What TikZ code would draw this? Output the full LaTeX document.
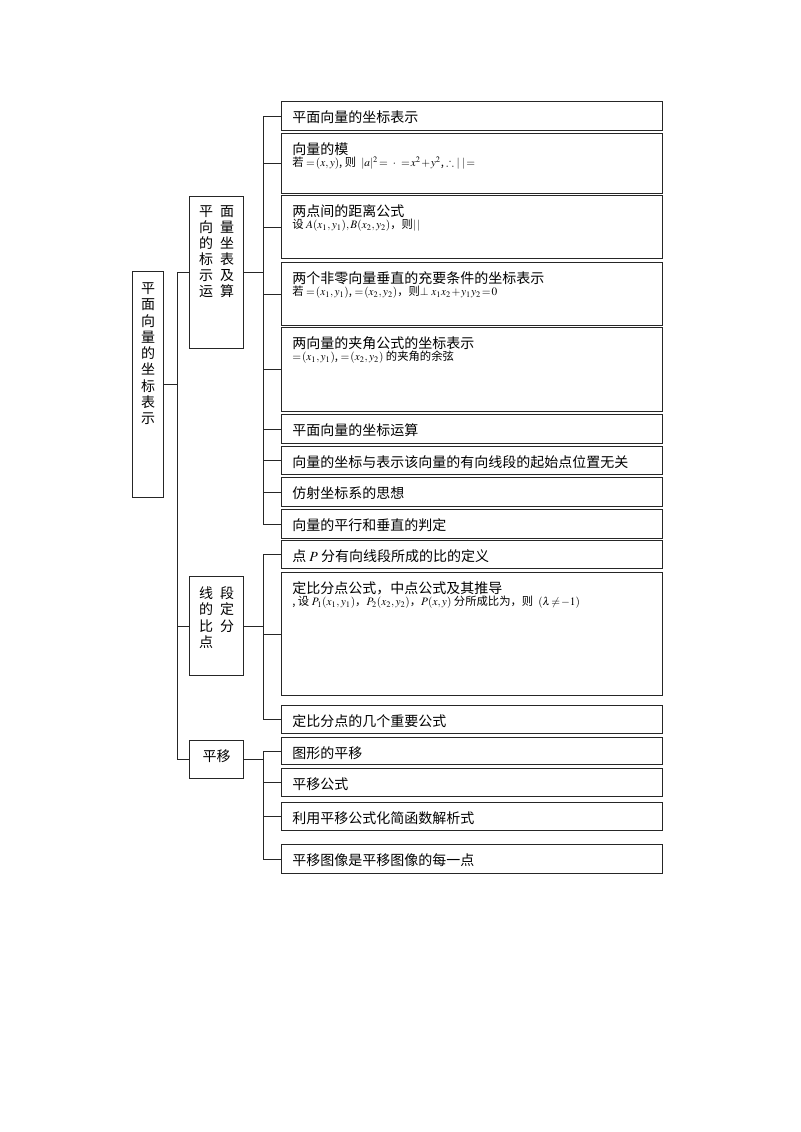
\documentclass[tikz,border=0pt]{standalone}
\usepackage{mathptmx}
\usepackage{amssymb}
\usepackage{fontspec}
\newfontfamily\cjk{Noto Sans CJK SC}
\usetikzlibrary{positioning}
\tikzset{
    topic/.style={
        draw=black!85,
        line width=0.9pt,
        anchor=north west,
        inner sep=0pt,
        font=\cjk\fontsize{10.5pt}{12pt}\selectfont,
    },
    item/.style={
        topic,
        inner xsep=8pt,
    },
    link/.style={
        draw=black!85,
        line width=0.8pt,
    },
}
\newcommand\itemtext[2]{\parbox[c][#1][t]{269.75pt}{\rule{0pt}{15.3pt}#2}}
\newcommand\fml{\par\fontsize{8.5pt}{9.5pt}\selectfont\medmuskip=1mu\thickmuskip=1.5mu}
\newcommand\gp{\hspace{5.25pt}}

\begin{document}
\begin{tikzpicture}[x=0.75pt,y=-0.75pt]
    \useasboundingbox (0,0) rectangle (800,1132);
    % left column
    \node [topic] (root) at (132,271) {\parbox[c][169.5pt][t]{23.25pt}{\centering\fontsize{10.5pt}{12.2pt}\selectfont\rule{0pt}{16.4pt}平\\面\\向\\量\\的\\坐\\标\\表\\示}};
    \node [topic] (g1) at (189,196) {\parbox[c][114pt][t]{40.5pt}{\centering\rule{0pt}{15pt}平\gp{}面\\向\gp{}量\\的\gp{}坐\\标\gp{}表\\示\gp{}及\\运\gp{}算}};
    \node [topic] (g2) at (189,576) {\parbox[c][74.25pt][t]{40.5pt}{\centering\fontsize{10.5pt}{12.2pt}\selectfont\rule{0pt}{16.4pt}线\gp{}段\\的\gp{}定\\比\gp{}分\\点\gp{}\phantom{分}}};
    \node [topic] (g3) at (189,740) {\parbox[c][28.5pt][t]{40.5pt}{\centering\rule{0pt}{15.6pt}平移}};
    % right column
    \node [item] (l1) at (281,101) {\itemtext{21.75pt}{平面向量的坐标表示}};
    \node [item] (l2) at (281,133) {\itemtext{45pt}{向量的模\fml{}若 $=(x,y)$, 则\ \ $|a|^2=$\ \ $\cdot$\ \ $=x^2+y^2$, $\therefore$ $|\ |=$}};
    \node [item] (l3) at (281,195) {\itemtext{47.25pt}{两点间的距离公式\fml{}设 $A(x_1,y_1),B(x_2,y_2)$，则$|\;|$}};
    \node [item] (l4) at (281,262) {\itemtext{47.25pt}{两个非零向量垂直的充要条件的坐标表示\fml{}若 $=(x_1,y_1)$, $=(x_2,y_2)$，则$\perp$ $x_1x_2+y_1y_2=0$}};
    \node [item] (l5) at (281,327) {\itemtext{63pt}{两向量的夹角公式的坐标表示\fml{}$=(x_1,y_1)$, $=(x_2,y_2)$ 的夹角的余弦}};
    \node [item] (l6) at (281,414) {\itemtext{21.75pt}{平面向量的坐标运算}};
    \node [item] (l7) at (281,446) {\itemtext{21pt}{向量的坐标与表示该向量的有向线段的起始点位置无关}};
    \node [item] (l8) at (281,477) {\itemtext{21.75pt}{仿射坐标系的思想}};
    \node [item] (l9) at (281,509) {\itemtext{21.75pt}{向量的平行和垂直的判定}};
    \node [item] (l10) at (281,540) {\itemtext{21pt}{点 $P$ 分有向线段所成的比的定义}};
    \node [item] (l11) at (281,572) {\itemtext{92.25pt}{定比分点公式，中点公式及其推导\fml{}, 设 $P_1(x_1,y_1)$，$P_2(x_2,y_2)$，$P(x,y)$ 分所成比为，则\ \ $(\lambda\neq-1)$}};
    \node [item] (l12) at (281,705) {\itemtext{21pt}{定比分点的几个重要公式}};
    \node [item] (l13) at (281,737) {\itemtext{20.25pt}{图形的平移}};
    \node [item] (l14) at (281,768) {\itemtext{21pt}{平移公式}};
    \node [item] (l15) at (281,802) {\itemtext{21pt}{利用平移公式化简函数解析式}};
    \node [item] (l16) at (281,844) {\itemtext{21.75pt}{平移图像是平移图像的每一点}};
    % connectors
    \foreach \g in {g1,g2,g3}
        \draw [link] (root.east) -- ++(13,0) |- (\g.west);
    \foreach \i in {1,...,9}
        \draw [link] (g1.east) -- ++(19,0) |- (l\i.west);
    \foreach \i in {10,11,12}
        \draw [link] (g2.east) -- ++(19,0) |- (l\i.west);
    \foreach \i in {13,...,16}
        \draw [link] (g3.east) -- ++(19,0) |- (l\i.west);
\end{tikzpicture}
\end{document}
